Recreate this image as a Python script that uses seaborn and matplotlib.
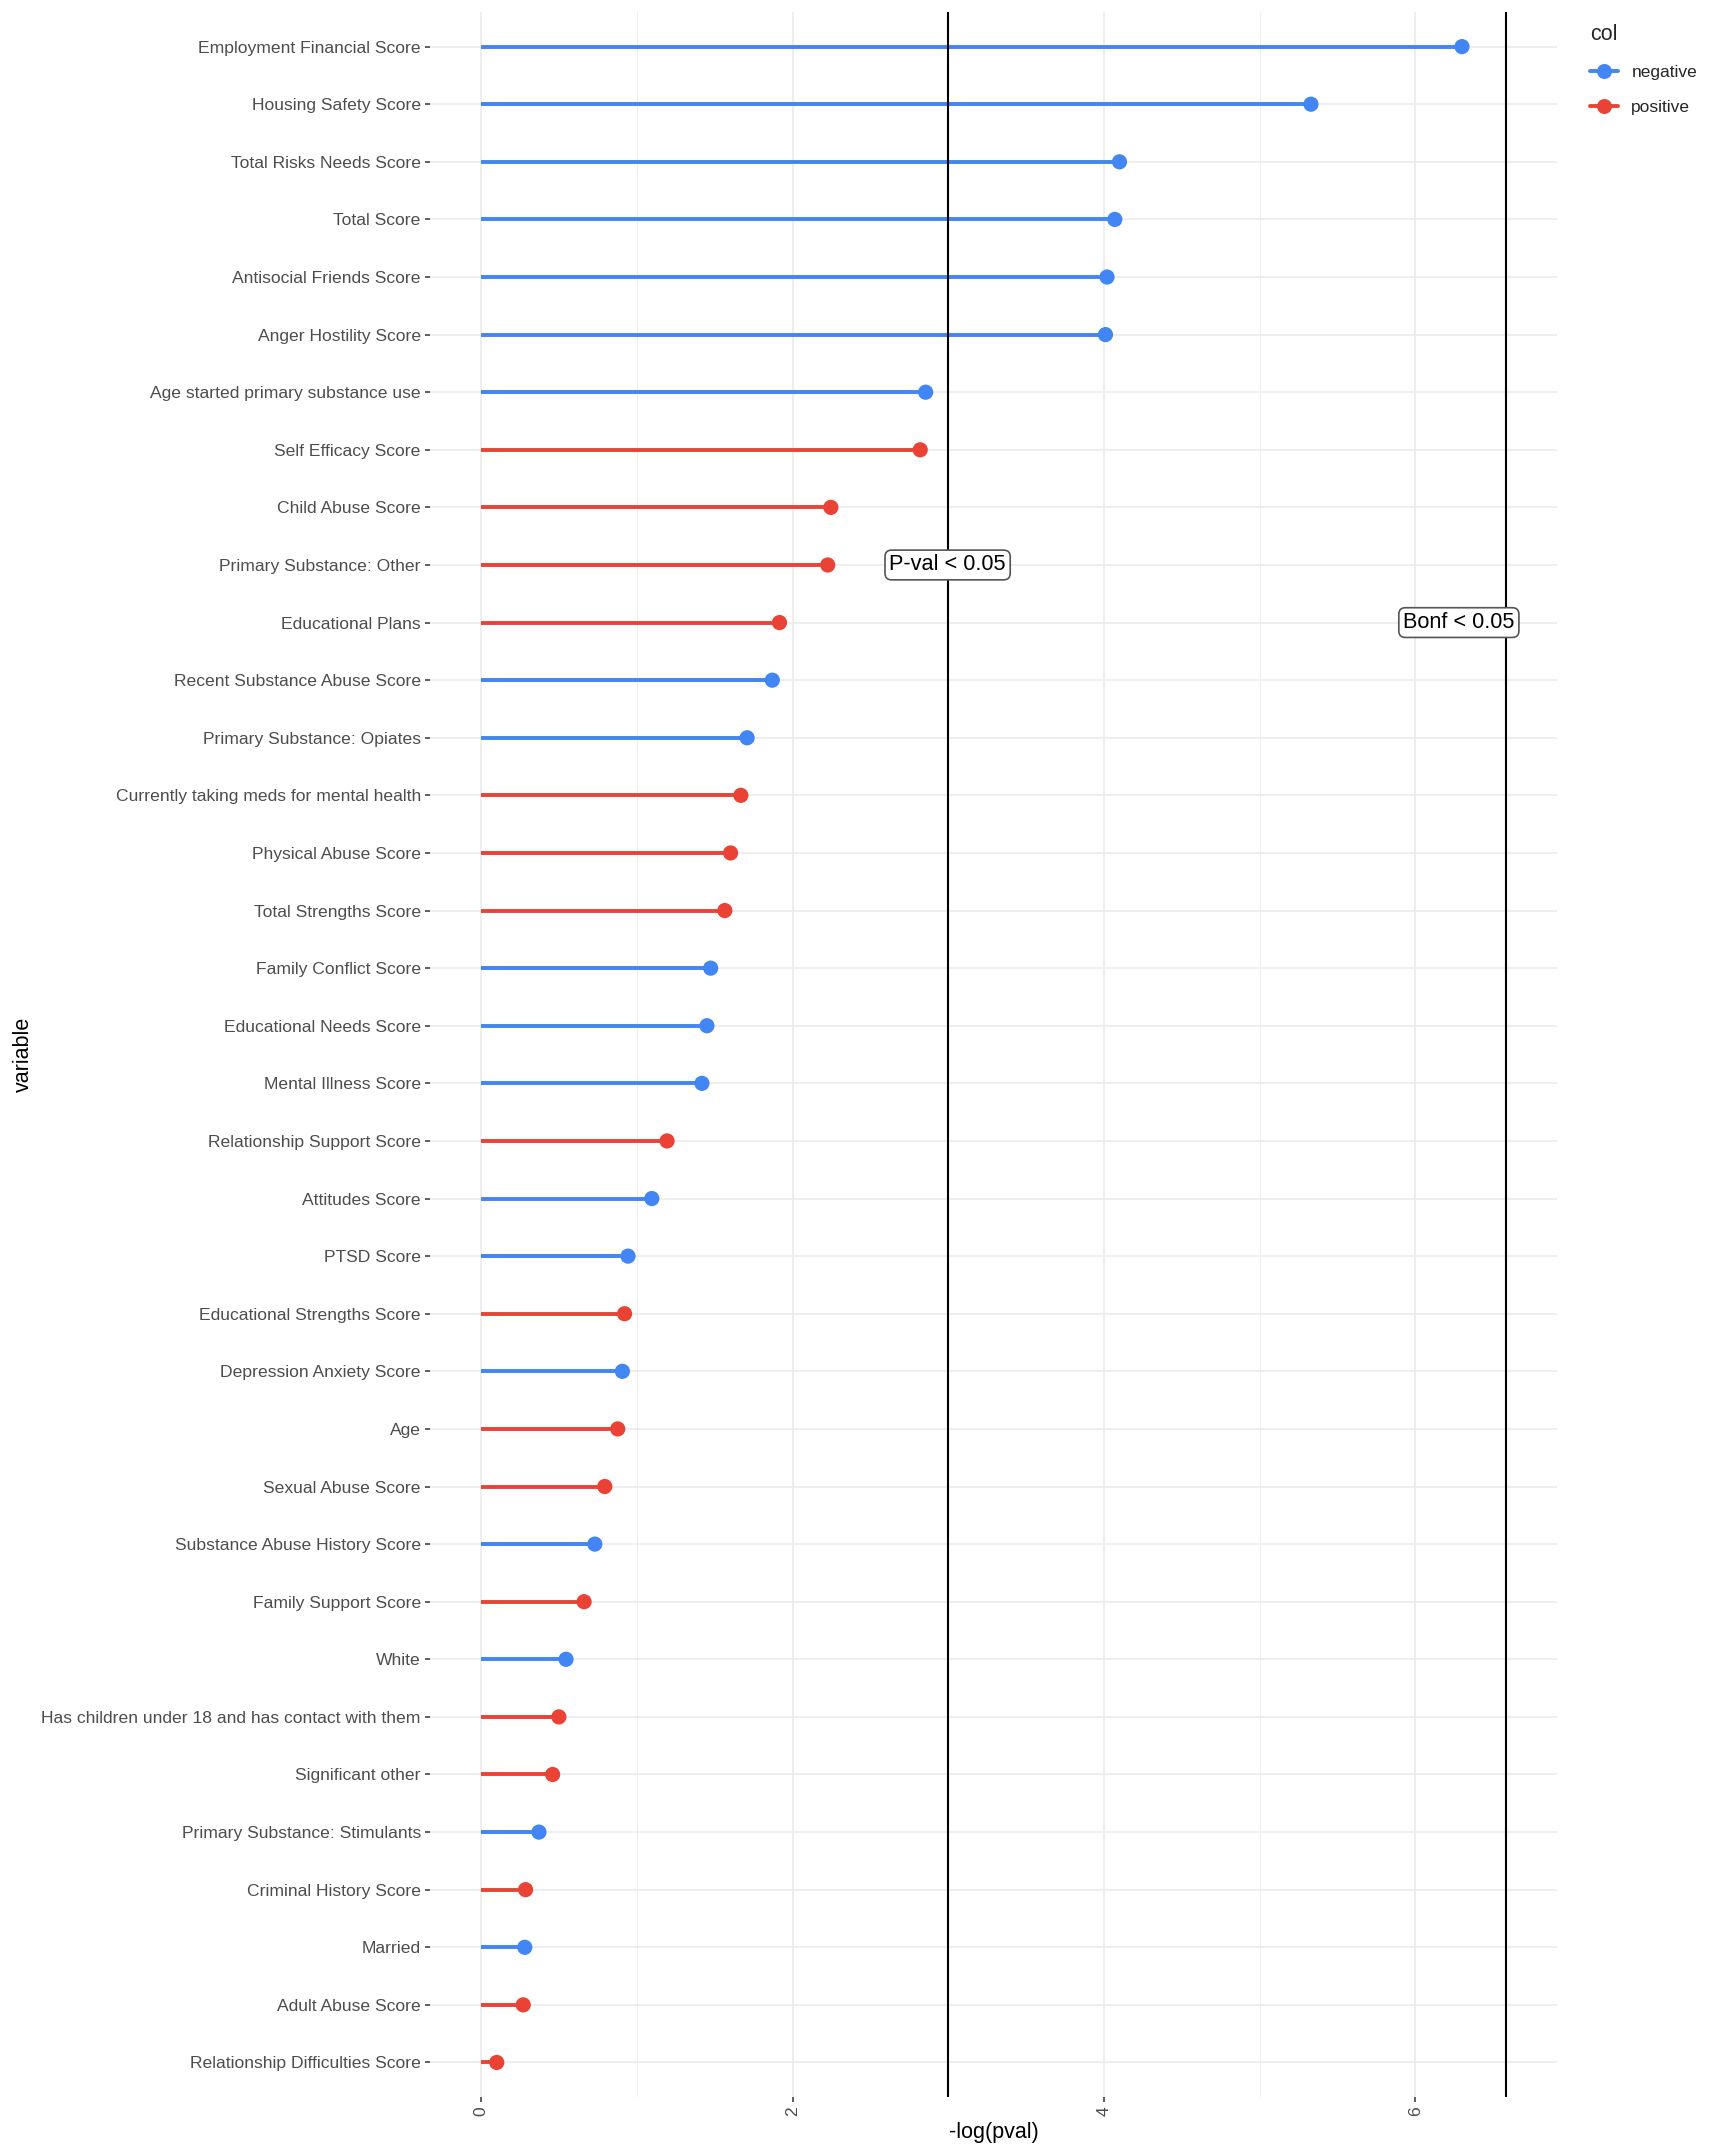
import pandas as pd
import seaborn as sns
import matplotlib.pyplot as plt
from matplotlib.lines import Line2D

# Values (-log(pval), natural log)
variables = [
    'Employment Financial Score', 'Housing Safety Score', 'Total Risks Needs Score',
    'Total Score', 'Antisocial Friends Score', 'Anger Hostility Score',
    'Age started primary substance use', 'Self Efficacy Score', 'Child Abuse Score',
    'Primary Substance: Other', 'Educational Plans', 'Recent Substance Abuse Score',
    'Primary Substance: Opiates', 'Currently taking meds for mental health',
    'Physical Abuse Score', 'Total Strengths Score', 'Family Conflict Score',
    'Educational Needs Score', 'Mental Illness Score', 'Relationship Support Score',
    'Attitudes Score', 'PTSD Score', 'Educational Strengths Score',
    'Depression Anxiety Score', 'Age', 'Sexual Abuse Score',
    'Substance Abuse History Score', 'Family Support Score', 'White',
    'Has children under 18 and has contact with them', 'Significant other',
    'Primary Substance: Stimulants', 'Criminal History Score', 'Married',
    'Adult Abuse Score', 'Relationship Difficulties Score',
]
neg_log_p = [
    6.30, 5.33, 4.10, 4.07, 4.02, 4.01, 2.855, 2.82, 2.246, 2.226, 1.916, 1.87,
    1.708, 1.668, 1.602, 1.565, 1.474, 1.45, 1.418, 1.194, 1.096, 0.943, 0.921,
    0.907, 0.877, 0.794, 0.73, 0.661, 0.545, 0.499, 0.459, 0.371, 0.285, 0.28,
    0.27, 0.10,
]
direction = [
    'negative', 'negative', 'negative', 'negative', 'negative', 'negative',
    'negative', 'positive', 'positive', 'positive', 'positive', 'negative',
    'negative', 'positive', 'positive', 'positive', 'negative', 'negative',
    'negative', 'positive', 'negative', 'negative', 'positive', 'negative',
    'positive', 'positive', 'negative', 'positive', 'negative', 'positive',
    'positive', 'negative', 'positive', 'negative', 'positive', 'positive',
]

# threshold lines: -log(0.05) and Bonferroni -log(0.05/36)
thresholds = [2.996, 6.58]
threshold_labels = ['P-val < 0.05', 'Bonf < 0.05']
label_x = [2.996, 6.28]
label_rows = ['Primary Substance: Other', 'Educational Plans']

df = pd.DataFrame({'variable': variables, 'value': neg_log_p, 'col': direction})
palette = {'negative': '#4285F4', 'positive': '#EA4335'}

sns.set_theme(style='white')
plt.rcParams['font.family'] = ['Liberation Sans', 'DejaVu Sans']

fig = plt.figure(figsize=(17.13, 21.55), dpi=100)
ax = fig.add_axes([0.2510, 0.0269, 0.6579, 0.9675])

# lollipop sticks
ax.hlines(y=df['variable'], xmin=0, xmax=df['value'],
          colors=df['col'].map(palette), linewidth=2.8, zorder=2)

sns.scatterplot(data=df, x='value', y='variable', hue='col', palette=palette,
                s=120, linewidth=0, ax=ax, legend=False, zorder=3)

for t in thresholds:
    ax.axvline(t, color='black', linewidth=1.5, zorder=4)

for txt, xx, row in zip(threshold_labels, label_x, label_rows):
    ax.text(xx, variables.index(row), txt, ha='center', va='center',
            fontsize=15.7, color='black', zorder=5,
            bbox=dict(boxstyle='round,pad=0.2,rounding_size=0.3',
                      facecolor='white', edgecolor='#555555', linewidth=1.2))

n = len(variables)
ax.set_ylim(n - 1 + 0.6, -0.6)
ax.set_xlim(-0.329, 6.91)

ax.set_xticks([0, 2, 4, 6])
ax.set_xticks([1, 3, 5], minor=True)
ax.grid(which='major', color='#EBEBEB', linewidth=1.2, zorder=0)
ax.grid(which='minor', axis='x', color='#EBEBEB', linewidth=0.6, zorder=0)
ax.set_axisbelow(True)
for s in ax.spines.values():
    s.set_visible(False)

ax.tick_params(axis='both', which='major', length=3.6, width=1.1,
               color='#333333', labelcolor='#4D4D4D', labelsize=12.6, pad=3,
               left=True, bottom=True)
ax.tick_params(axis='x', which='minor', length=0)
plt.setp(ax.get_xticklabels(), rotation=90)

ax.set_xlabel('-log(pval)', fontsize=15.5, color='black', labelpad=4)
ax.set_ylabel('variable', fontsize=15.5, color='black')
ax.yaxis.set_label_coords(-0.351, 0.5)

handles = [Line2D([0], [0], color=palette[k], lw=2.8, marker='o',
                  markersize=10.8, markeredgewidth=0) for k in ['negative', 'positive']]
leg = fig.legend(handles, ['negative', 'positive'], title='col',
                 loc='upper left', bbox_to_anchor=(0.925, 0.9915),
                 frameon=False, fontsize=12.5, title_fontsize=15.5,
                 handlelength=1.6, handletextpad=0.8, labelspacing=1.15,
                 borderpad=0.3, borderaxespad=0, alignment='left')

plt.savefig('out.png', dpi=100)
